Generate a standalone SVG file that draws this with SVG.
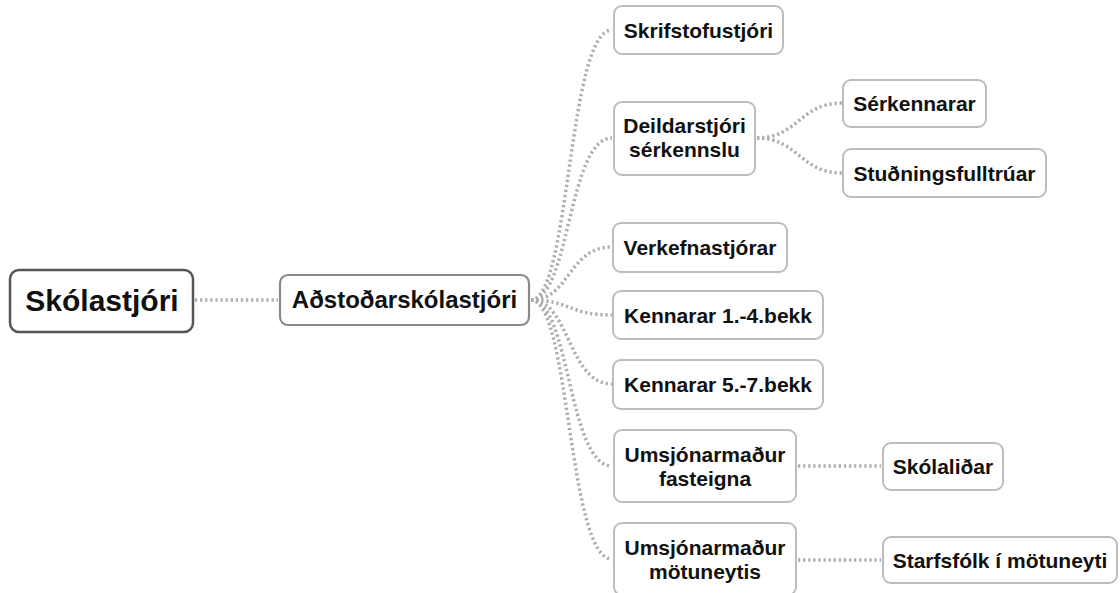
<svg xmlns="http://www.w3.org/2000/svg" width="1120" height="593" viewBox="0 0 1120 593">
<style>
.box{fill:#fff;stroke:#bdbdbd;stroke-width:2}
.t{font-family:"Liberation Sans",Arial,sans-serif;font-weight:bold;font-size:21px;fill:#111;text-anchor:middle}
.c{fill:none;stroke:#acacac;stroke-width:3.5;stroke-dasharray:2.2 2.9}
</style>
<rect width="1120" height="593" fill="#fff"/>
<g id="connectors">
<path class="c" d="M195 300 H278"/>
<path class="c" d="M531 300 C570 300 568 30 612 30"/>
<path class="c" d="M531 300 C570 300 568 138 612 138"/>
<path class="c" d="M531 300 C570 300 568 247 612 247"/>
<path class="c" d="M531 300 C570 300 568 315 612 315"/>
<path class="c" d="M531 300 C570 300 568 384 612 384"/>
<path class="c" d="M531 300 C570 300 568 466 612 466"/>
<path class="c" d="M531 300 C570 300 568 559 612 559"/>
<path class="c" d="M757 138 C798 138 800 103 842 103"/>
<path class="c" d="M757 138 C798 138 800 173 842 173"/>
<path class="c" d="M798 466 H881"/>
<path class="c" d="M798 560 H881"/>
</g>
<g id="skolastjori">
<rect x="10" y="270" width="183" height="62" rx="9" fill="#fff" stroke="#555" stroke-width="2.5"/>
<text class="t" x="102" y="311" style="font-size:30px">Skólastjóri</text>
</g>
<g id="adstodarskolastjori">
<rect x="280" y="275" width="249" height="50" rx="8" fill="#fff" stroke="#8a8a8a" stroke-width="2.2"/>
<text class="t" x="404.5" y="308" style="font-size:24px">Aðstoðarskólastjóri</text>
</g>
<g id="skrifstofustjori">
<rect class="box" x="614" y="6" width="169" height="48" rx="8"/>
<text class="t" x="698.5" y="37.5">Skrifstofustjóri</text>
</g>
<g id="deildarstjori">
<rect class="box" x="614" y="102" width="141" height="73" rx="8"/>
<text class="t" x="684.5" y="133">Deildarstjóri</text>
<text class="t" x="684.5" y="157">sérkennslu</text>
</g>
<g id="serkennarar">
<rect class="box" x="843" y="80" width="143" height="47" rx="8"/>
<text class="t" x="914.5" y="111">Sérkennarar</text>
</g>
<g id="studningsfulltruar">
<rect class="box" x="843" y="149" width="203" height="48" rx="8"/>
<text class="t" x="944.5" y="180.5">Stuðningsfulltrúar</text>
</g>
<g id="verkefnastjorar">
<rect class="box" x="613" y="223" width="174" height="49" rx="8"/>
<text class="t" x="700" y="255">Verkefnastjórar</text>
</g>
<g id="kennarar14">
<rect class="box" x="613" y="291" width="210" height="48" rx="8"/>
<text class="t" x="718" y="322.5">Kennarar 1.-4.bekk</text>
</g>
<g id="kennarar57">
<rect class="box" x="613" y="360" width="210" height="49" rx="8"/>
<text class="t" x="718" y="392">Kennarar 5.-7.bekk</text>
</g>
<g id="umsjon-fasteigna">
<rect class="box" x="614" y="430" width="182" height="72" rx="8"/>
<text class="t" x="705" y="462">Umsjónarmaður</text>
<text class="t" x="705" y="486">fasteigna</text>
</g>
<g id="umsjon-motuneytis">
<rect class="box" x="614" y="523" width="182" height="72" rx="8"/>
<text class="t" x="705" y="555">Umsjónarmaður</text>
<text class="t" x="705" y="579">mötuneytis</text>
</g>
<g id="skolalidar">
<rect class="box" x="883" y="443" width="120" height="47" rx="8"/>
<text class="t" x="943" y="474">Skólaliðar</text>
</g>
<g id="starfsfolk">
<rect class="box" x="883" y="537" width="234" height="46" rx="8"/>
<text class="t" x="1000" y="567.5">Starfsfólk í mötuneyti</text>
</g>
</svg>
